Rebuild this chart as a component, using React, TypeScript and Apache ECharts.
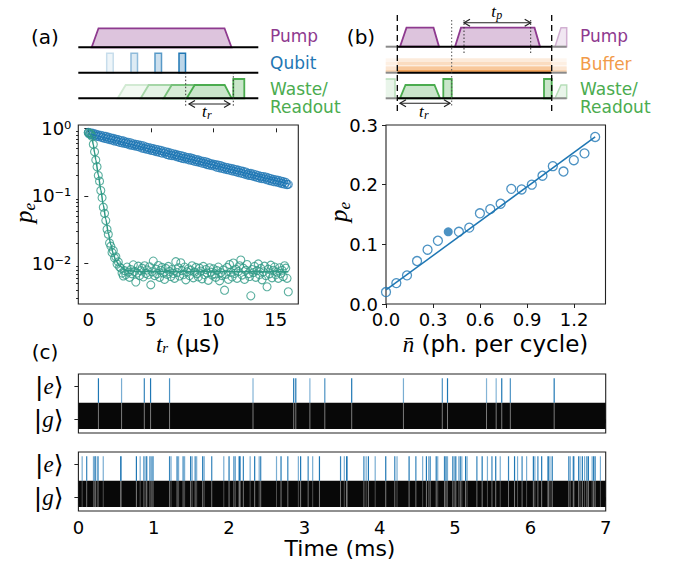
import React, { useEffect, useRef } from "react";
import * as echarts from "echarts";

// ---------------- panel (a): p_e versus t_r ----------------
const T_STEP_US = 0.1; // sampling step of the t_r sweep (µs)
const peBlue = [
  0.87, 0.82, 0.86, 0.8, 0.84, 0.78, 0.82, 0.76, 0.8, 0.75,
  0.79, 0.73, 0.77, 0.71, 0.76, 0.7, 0.74, 0.68, 0.72, 0.67,
  0.71, 0.65, 0.69, 0.64, 0.68, 0.62, 0.66, 0.61, 0.65, 0.6,
  0.63, 0.59, 0.62, 0.57, 0.61, 0.56, 0.59, 0.55, 0.58, 0.54,
  0.57, 0.53, 0.56, 0.51, 0.55, 0.5, 0.53, 0.49, 0.52, 0.48,
  0.51, 0.47, 0.5, 0.46, 0.49, 0.45, 0.48, 0.44, 0.47, 0.43,
  0.46, 0.43, 0.45, 0.41, 0.44, 0.4, 0.43, 0.395, 0.42, 0.39,
  0.41, 0.38, 0.4, 0.37, 0.395, 0.36, 0.385, 0.355, 0.375, 0.35,
  0.37, 0.34, 0.365, 0.335, 0.355, 0.325, 0.345, 0.32, 0.34, 0.315,
  0.33, 0.305, 0.325, 0.3, 0.32, 0.29, 0.31, 0.285, 0.3, 0.28,
  0.295, 0.275, 0.29, 0.265, 0.285, 0.26, 0.28, 0.255, 0.27, 0.25,
  0.265, 0.245, 0.26, 0.24, 0.255, 0.235, 0.25, 0.23, 0.245, 0.225,
  0.24, 0.22, 0.235, 0.215, 0.23, 0.21, 0.225, 0.205, 0.215, 0.2,
  0.215, 0.198, 0.21, 0.193, 0.205, 0.188, 0.2, 0.183, 0.195, 0.18,
  0.193, 0.178, 0.19, 0.173, 0.184, 0.168, 0.18, 0.165, 0.175, 0.162,
  0.173, 0.16, 0.17, 0.156, 0.166, 0.152, 0.162, 0.149, 0.158, 0.147,
  0.148,
];
const peGreen = [
  0.86, 0.85, 0.82, 0.76, 0.58, 0.45, 0.34, 0.27, 0.2, 0.165,
  0.12, 0.094, 0.068, 0.055, 0.043, 0.032, 0.027, 0.02, 0.018, 0.0145,
  0.0155, 0.012, 0.0125, 0.0098, 0.0105, 0.0088, 0.0085, 0.0072, 0.0065, 0.0078,
  0.0068, 0.0088, 0.0074, 0.0062, 0.0081, 0.007, 0.0095, 0.0076, 0.0053, 0.0072,
  0.0091, 0.0066, 0.0078, 0.0085, 0.0063, 0.0092, 0.0071, 0.008, 0.0068, 0.0089,
  0.0048, 0.0075, 0.0108, 0.0066, 0.0082, 0.007, 0.0093, 0.0062, 0.0079, 0.0087,
  0.0072, 0.0058, 0.0084, 0.0069, 0.009, 0.0076, 0.0064, 0.0081, 0.0071, 0.006,
  0.0106, 0.0073, 0.0086, 0.0065, 0.0102, 0.0078, 0.0068, 0.0088, 0.0057, 0.0075,
  0.0083, 0.0066, 0.0079, 0.0092, 0.0061, 0.0074, 0.0087, 0.007, 0.0063, 0.0085,
  0.0077, 0.0059, 0.009, 0.0068, 0.0081, 0.0072, 0.0056, 0.0086, 0.0074, 0.0067,
  0.0083, 0.007, 0.0062, 0.0078, 0.0088, 0.0055, 0.0073, 0.0066, 0.008, 0.004,
  0.0069, 0.0087, 0.0058, 0.0096, 0.0074, 0.0063, 0.0101, 0.0071, 0.0082, 0.006,
  0.0076, 0.0092, 0.0112, 0.0067, 0.0085, 0.0058, 0.0079, 0.0096, 0.007, 0.0064,
  0.0033, 0.0081, 0.0073, 0.009, 0.0062, 0.0078, 0.0098, 0.0068, 0.0084, 0.0057,
  0.0075, 0.0091, 0.0066, 0.0045, 0.0082, 0.007, 0.0094, 0.0061, 0.0079, 0.0088,
  0.0068, 0.0074, 0.006, 0.0086, 0.0071, 0.0079, 0.0064, 0.0092, 0.0085, 0.006,
  0.0038,
];
const blueFitT = [0, 16];
const blueFitPe = [0.835, 0.151];
const greenFitT = [0, 0.2, 0.3, 0.4, 0.5, 0.6, 0.8, 1.0, 1.2, 1.4, 1.6, 1.8, 2.0, 2.2, 2.5, 3.0, 3.5, 4.0, 16];
const greenFitPe = [0.85, 0.8, 0.72, 0.57, 0.44, 0.34, 0.205, 0.122, 0.073, 0.045, 0.028, 0.019, 0.0138, 0.011, 0.0091, 0.008, 0.0077, 0.0076, 0.0075];
const aXTicks = [0, 5, 10, 15];
const aDecades = [-2, -1, 0];
const aDecadeLabels: Record<string, string> = { "-2": "10⁻²", "-1": "10⁻¹", "0": "10⁰" };

// ---------------- panel (b): p_e versus n̄ ----------------
const nbar = [0.0, 0.066, 0.134, 0.198, 0.265, 0.331, 0.397, 0.465, 0.531, 0.599, 0.665, 0.731, 0.799, 0.865, 0.93, 0.998, 1.064, 1.132, 1.198, 1.266, 1.334];
const peNbar = [0.02, 0.035, 0.048, 0.072, 0.091, 0.106, 0.121, 0.121, 0.128, 0.152, 0.159, 0.168, 0.193, 0.192, 0.2, 0.215, 0.231, 0.222, 0.241, 0.2525, 0.28];
const highlightIndex = 6;
const nbarFitX = [0, 1.334];
const nbarFitPe = [0.0235, 0.28];
const bXTicks = [0, 0.3, 0.6, 0.9, 1.2];

// ---------------- panel (c): jump traces ----------------
const jumpsTop = [0.266, 0.573, 0.875, 0.958, 1.21, 2.318, 2.858, 2.886, 3.073, 3.271, 3.628, 4.315, 4.831, 4.9, 5.418, 5.546, 5.62, 5.734, 6.316];
const jumpsTopWeight = [1, 0.6, 0.9, 1, 0.8, 0.55, 1, 1, 0.55, 0.8, 1, 0.6, 0.8, 1, 0.55, 0.55, 1, 0.8, 1];
const jumpsBottom = [
  0.05, 0.11, 0.2, 0.22, 0.23, 0.26, 0.33, 0.56, 0.57, 0.77, 0.82, 0.87, 0.9, 0.91, 0.95, 0.97, 0.99,
  1.21, 1.23, 1.31, 1.33, 1.39, 1.41, 1.49, 1.51, 1.55, 1.57, 1.65, 1.67, 1.77, 1.93,
  2.0, 2.06, 2.08, 2.13, 2.14, 2.15, 2.19, 2.28, 2.34, 2.4, 2.42, 2.63, 2.69, 2.78, 2.92, 2.95,
  3.05, 3.11, 3.2, 3.48, 3.53, 3.56, 3.57, 3.79, 3.82, 3.85, 3.94,
  4.08, 4.2, 4.23, 4.39, 4.48, 4.57, 4.62, 4.65, 4.67, 4.75, 4.77, 4.86, 4.88, 4.9, 4.97, 4.99,
  5.01, 5.05, 5.07, 5.09, 5.14, 5.16, 5.29, 5.36, 5.43, 5.49, 5.54, 5.6, 5.71, 5.79, 5.83, 5.89, 5.95,
  6.04, 6.06, 6.1, 6.15, 6.23, 6.24, 6.26, 6.29, 6.51, 6.53, 6.57, 6.58, 6.64, 6.66, 6.69, 6.72, 6.75, 6.77, 6.82, 6.84, 6.86, 6.93,
];
const jumpsBottomWeight = [
  0.6, 0.9, 0.6, 1, 0.6, 1, 0.6, 0.9, 0.6, 1, 0.6, 0.9, 1, 0.6, 0.9, 0.6, 1,
  0.9, 0.6, 1, 0.6, 0.9, 0.6, 1, 0.6, 0.9, 0.6, 1, 0.6, 0.9, 0.6,
  1, 0.6, 0.9, 0.6, 1, 0.6, 0.9, 0.6, 1, 0.6, 0.9, 0.6, 1, 0.9, 0.6, 1,
  0.9, 0.6, 1, 0.9, 0.6, 1, 0.6, 0.9, 0.6, 1, 0.6,
  1, 0.9, 0.6, 1, 0.9, 0.6, 1, 0.6, 0.9, 1, 0.6, 0.9, 1, 0.6, 0.9, 0.6,
  1, 0.6, 0.9, 0.6, 1, 0.6, 0.9, 1, 0.6, 0.9, 1, 0.6, 0.9, 1, 0.6, 0.9, 0.6,
  1, 0.6, 0.9, 1, 0.6, 0.9, 0.6, 1, 0.9, 0.6, 1, 0.6, 0.9, 0.6, 1, 0.6, 0.9, 1, 0.6, 1, 0.9, 0.6,
];
const cXTicks = [0, 1, 2, 3, 4, 5, 6, 7];
const cStates = [0, 1]; // |g>, |e>
const G_BAND = [-0.3, 0.5];
const E_LINE = [0.5, 1.25];

// ---------------- styling ----------------
const BLUE = "#1f77b4";
const TEAL = "#2f9a86";
const PURPLE = "#8e3a8f";
const GREEN = "#4bac4f";
const ORANGE = "#f29b4a";
const INK = "#222";
const SANS = "DejaVu Sans";
const SERIF = "Liberation Serif";

function mix(hex: string, a: number) {
  const n = parseInt(hex.slice(1), 16);
  const r = (n >> 16) & 255, g = (n >> 8) & 255, b = n & 255;
  const m = (c: number) => Math.round(255 - a * (255 - c));
  return `rgb(${m(r)},${m(g)},${m(b)})`;
}

const L = (x1: number, y1: number, x2: number, y2: number, stroke: string, lineWidth = 2, lineDash?: number[]) => ({
  type: "line", silent: true, shape: { x1, y1, x2, y2 }, style: { stroke, lineWidth, lineDash },
});
const PG = (points: number[][], fill: string, stroke: string, lineWidth = 1.8) => ({
  type: "polygon", silent: true, shape: { points }, style: { fill, stroke, lineWidth },
});
const PL = (points: number[][], stroke: string, lineWidth = 1.2) => ({
  type: "polyline", silent: true, shape: { points }, style: { stroke, lineWidth, fill: "none" },
});
const TX = (x: number, y: number, text: string, fill: string, fontSize = 17, align = "left", extra: any = {}) => ({
  type: "text", silent: true, x, y,
  style: { text, fill, fontSize, fontFamily: SANS, align, verticalAlign: "middle", ...extra },
});
const arrow = (x1: number, x2: number, y: number) => [
  L(x1, y, x2, y, INK, 1.1),
  PL([[x1 + 6, y - 3.5], [x1, y], [x1 + 6, y + 3.5]], INK),
  PL([[x2 - 6, y - 3.5], [x2, y], [x2 - 6, y + 3.5]], INK),
];
const mathRich = (big: number, small: number, drop: number) => ({
  m: { fontFamily: SERIF, fontStyle: "italic", fontSize: big, lineHeight: big, verticalAlign: "top", fill: "#000", color: "#000" },
  s: { fontFamily: SERIF, fontStyle: "italic", fontSize: small, lineHeight: small, verticalAlign: "bottom", padding: [drop, 0, 0, 0], fill: "#000", color: "#000" },
  n: { fontFamily: SANS, fontSize: big, lineHeight: big, verticalAlign: "top", fill: "#000", color: "#000" },
});
const MT = (x: number, y: number, text: string, big: number, small: number, drop: number, rotation = 0) => ({
  type: "text", silent: true, x, y, rotation,
  style: { text, rich: mathRich(big, small, drop), align: "center", verticalAlign: "middle", fill: "#000" },
});
// symbol with subscript, built from two texts inside a (possibly rotated) group
const SUB = (x: number, y: number, main: string, sub: string, big: number, small: number, mainW: number, dx0: number, drop: number, rotation = 0) => ({
  type: "group", silent: true, x, y, rotation,
  children: [
    { type: "text", silent: true, x: dx0, y: 0, style: { text: main, fill: "#000", fontFamily: SERIF, fontStyle: "italic", fontSize: big, align: "left", verticalAlign: "middle" } },
    { type: "text", silent: true, x: dx0 + mainW, y: drop, style: { text: sub, fill: "#000", fontFamily: SERIF, fontStyle: "italic", fontSize: small, align: "left", verticalAlign: "middle" } },
  ],
});

function schematic(): any[] {
  const els: any[] = [];
  // ----- panel (a) -----
  els.push(PG([[91.7, 47.3], [98.5, 28.3], [224.5, 28.3], [231.5, 47.3]], mix(PURPLE, 0.3), PURPLE));
  const qx = [106.7, 131, 155, 179];
  const fade = [0.25, 0.5, 0.75, 1];
  qx.forEach((x, i) => {
    els.push({ type: "rect", silent: true, shape: { x, y: 53.3, width: 6.5, height: 19.4 }, style: { fill: mix(BLUE, 0.3 * fade[i]), stroke: mix(BLUE, fade[i]), lineWidth: 1.5 } });
  });
  const gx = [117.7, 140.7, 163.7, 186.7];
  gx.forEach((x0, i) => {
    els.push(PG([[x0, 98.3], [x0 + 8, 85], [x0 + 38, 85], [x0 + 45, 98.3]], mix(GREEN, 0.3 * fade[i]), mix(GREEN, fade[i])));
  });
  els.push({ type: "rect", silent: true, shape: { x: 233.3, y: 79, width: 11, height: 19.3 }, style: { fill: mix(GREEN, 0.3), stroke: GREEN, lineWidth: 1.8 } });
  [47.3, 72.7, 98.3].forEach((y) => els.push(L(78.3, y, 258.3, y, "#000", 2)));
  els.push(L(185.7, 72.7, 185.7, 106.7, "#333", 1, [1.5, 2]));
  els.push(L(233.3, 72.7, 233.3, 106.7, "#333", 1, [1.5, 2]));
  els.push(...arrow(189, 230, 104));
  els.push(SUB(207, 111, "t", "r", 17, 12, 5, -5, 3.5));
  els.push(TX(270, 36, "Pump", PURPLE));
  els.push(TX(270, 63, "Qubit", BLUE));
  els.push(TX(270, 88.5, "Waste/", GREEN));
  els.push(TX(270, 107, "Readout", GREEN));
  els.push(TX(45, 37, "(a)", "#000", 20, "center"));

  // ----- panel (b) -----
  const xl = 385.7, d1 = 397.3, d2 = 551.7, xr = 566.7;
  const stripes = [[58.3, 62, 0.2], [62, 65.5, 0.35], [66.3, 70, 0.55], [70, 72.7, 0.9]];
  stripes.forEach(([y0, y1, a]) => {
    els.push({ type: "rect", silent: true, shape: { x: xl, y: y0, width: d1 - xl, height: y1 - y0 }, style: { fill: mix(ORANGE, a * 0.45) } });
    els.push({ type: "rect", silent: true, shape: { x: d1, y: y0, width: d2 - d1, height: y1 - y0 }, style: { fill: mix(ORANGE, a) } });
    els.push({ type: "rect", silent: true, shape: { x: d2, y: y0, width: xr - d2, height: y1 - y0 }, style: { fill: mix(ORANGE, a * 0.45) } });
  });
  els.push(PG([[400, 46.7], [406.5, 27.7], [433.5, 27.7], [439, 46.7]], mix(PURPLE, 0.3), PURPLE));
  els.push(PG([[455, 46.7], [461, 27.7], [534.5, 27.7], [540, 46.7]], mix(PURPLE, 0.3), PURPLE));
  els.push(PG([[555, 46.7], [561, 27.7], [xr, 27.7], [xr, 46.7]], mix(PURPLE, 0.12), mix(PURPLE, 0.4), 1.5));
  els.push(PG([[400, 98.3], [405.5, 85], [434.5, 85], [440, 98.3]], mix(GREEN, 0.3), GREEN));
  els.push({ type: "rect", silent: true, shape: { x: 443.3, y: 79, width: 8.4, height: 19.3 }, style: { fill: mix(GREEN, 0.3), stroke: GREEN, lineWidth: 1.8 } });
  els.push({ type: "rect", silent: true, shape: { x: 544, y: 79, width: 7.7, height: 19.3 }, style: { fill: mix(GREEN, 0.3), stroke: GREEN, lineWidth: 1.8 } });
  els.push({ type: "rect", silent: true, shape: { x: xl, y: 79, width: 9.3, height: 19.3 }, style: { fill: mix(GREEN, 0.12), stroke: "none" } });
  els.push(PL([[xl, 79], [395, 79], [395, 98.3]], mix(GREEN, 0.4), 1.5));
  els.push(PG([[555, 98.3], [561, 85], [xr, 85], [xr, 98.3]], mix(GREEN, 0.12), mix(GREEN, 0.4), 1.5));
  [46.7, 72.7, 98.3].forEach((y) => {
    els.push(L(xl, y, d1, y, "#8a8a8a", 2));
    els.push(L(d1, y, d2, y, "#000", 2));
    els.push(L(d2, y, xr, y, "#8a8a8a", 2));
  });
  els.push(L(d1, 15, d1, 113, "#000", 1.3, [6, 4]));
  els.push(L(d2, 15, d2, 113, "#000", 1.3, [6, 4]));
  els.push(L(451.7, 20, 451.7, 107, "#555", 1, [1.5, 2]));
  els.push(L(464, 20, 464, 53.3, "#333", 1, [1.5, 2]));
  els.push(L(530.7, 20, 530.7, 53.3, "#333", 1, [1.5, 2]));
  els.push(...arrow(464, 530.7, 22.7));
  els.push(SUB(496.7, 11, "t", "p", 17, 12, 5, -5.5, 3.5));
  els.push(...arrow(400, 450, 103.3));
  els.push(SUB(424, 111, "t", "r", 17, 12, 5, -5, 3.5));
  els.push(TX(580, 36, "Pump", PURPLE));
  els.push(TX(580, 63.5, "Buffer", ORANGE));
  els.push(TX(580, 88.5, "Waste/", GREEN));
  els.push(TX(580, 107, "Readout", GREEN));
  els.push(TX(361, 37, "(b)", "#000", 20, "center"));

  // ----- labels for plots -----
  els.push(SUB(23.5, 213, "p", "e", 25, 17, 12.5, -10, 6, Math.PI / 2));
  els.push(SUB(338, 212, "p", "e", 25, 17, 12.5, -10, 6, Math.PI / 2));
  els.push(MT(188, 344, "{m|t}{s|r}{n| (µs)}", 23, 15, 13));
  els.push(MT(495.5, 344, "{m|n̄}{n| (ph. per cycle)}", 23, 15, 9));
  els.push(TX(340, 548, "Time (ms)", "#000", 22, "center"));
  els.push(TX(45, 352, "(c)", "#000", 20, "center"));
  return els;
}

const tickLabel = { color: "#000", fontFamily: SANS, fontSize: 18 };
const baseAxis = (extra: any) => ({
  type: "value",
  axisLine: { show: false },
  splitLine: { show: false },
  ...extra,
});

export default function App() {
  const ref = useRef<HTMLDivElement>(null);
  useEffect(() => {
    if (!ref.current) return;
    const chart = echarts.init(ref.current, null, { renderer: "svg" });

    const yMin = Math.log10(0.0025), yMax = Math.log10(1.12);
    const minor: number[] = [];
    for (let e = -3; e <= 0; e++) for (let k = 2; k <= 9; k++) {
      const v = Math.log10(k) + e;
      if (v > yMin && v < yMax) minor.push(v);
    }
    const bluePts = peBlue.map((p, i) => [+(i * T_STEP_US).toFixed(2), Math.log10(p)]);
    const greenPts = peGreen.map((p, i) => [+(i * T_STEP_US).toFixed(2), Math.log10(p)]);
    const hollow = (c: string) => ({ color: "rgba(0,0,0,0)", borderColor: c, borderWidth: 1.1 });
    const ticks = (vals: number[] | null, len = 4) => ({ show: true, length: len, lineStyle: { color: INK, width: 1 }, ...(vals ? { customValues: vals } : {}) });
    const stateLabel = {
      ...tickLabel, margin: 15, customValues: cStates,
      formatter: (v: number) => (v > 0.5 ? "{b||}{i|e}{b|⟩}" : "{b||}{i|g}{b|⟩}"),
      rich: {
        b: { fontFamily: SANS, fontSize: 25, color: "#000" },
        i: { fontFamily: SERIF, fontStyle: "italic", fontSize: 23, color: "#000" },
      },
    };
    const eventSeries = (axis: number, data: number[][], range: number[], stroke: string, width: number) => ({
      type: "custom", xAxisIndex: axis, yAxisIndex: axis + 1, silent: true, data,
      renderItem: (_p: any, api: any) => {
        const a = api.coord([api.value(0), range[1]]);
        const b = api.coord([api.value(0), range[0]]);
        return { type: "line", shape: { x1: a[0], y1: a[1], x2: b[0], y2: b[1] }, style: { stroke, lineWidth: width, opacity: api.value(2) } };
      },
    });
    const bandSeries = (axis: number) => ({
      type: "custom", xAxisIndex: axis, yAxisIndex: axis + 1, silent: true, data: [[0, 7]],
      renderItem: (_p: any, api: any) => {
        const a = api.coord([api.value(0), G_BAND[1]]);
        const b = api.coord([api.value(1), G_BAND[0]]);
        return { type: "rect", shape: { x: a[0], y: a[1], width: b[0] - a[0], height: b[1] - a[1] }, style: { fill: "#080808" } };
      },
    });
    const gridStyle = { show: true, borderColor: INK, borderWidth: 1.1, backgroundColor: "rgba(0,0,0,0)", outerBoundsMode: "none" };

    chart.setOption({
      animation: false,
      backgroundColor: "#fff",
      grid: [
        { left: 78.3, top: 125, width: 220, height: 179, ...gridStyle },
        { left: 386, top: 125, width: 219.5, height: 179, ...gridStyle },
        { left: 78.4, top: 374, width: 527.3, height: 59, ...gridStyle },
        { left: 78.4, top: 452, width: 527.3, height: 59, ...gridStyle },
      ],
      xAxis: [
        baseAxis({ gridIndex: 0, min: -0.8, max: 16.8, axisTick: ticks(aXTicks), axisLabel: { ...tickLabel, margin: 6, customValues: aXTicks } }),
        baseAxis({ gridIndex: 1, min: 0, max: 1.4, axisTick: ticks(bXTicks), axisLabel: { ...tickLabel, margin: 6, customValues: bXTicks, formatter: (v: number) => v.toFixed(1) } }),
        baseAxis({ gridIndex: 2, min: 0, max: 7, axisTick: ticks(cXTicks), axisLabel: { show: false, customValues: cXTicks } }),
        baseAxis({ gridIndex: 3, min: 0, max: 7, axisTick: ticks(cXTicks), axisLabel: { ...tickLabel, margin: 7, customValues: cXTicks } }),
      ],
      yAxis: [
        baseAxis({ gridIndex: 0, position: "left", min: yMin, max: yMax, axisTick: ticks(aDecades), axisLabel: { ...tickLabel, margin: 7, customValues: aDecades, formatter: (v: number) => aDecadeLabels[String(Math.round(v))] } }),
        baseAxis({ gridIndex: 0, position: "left", offset: 0, min: yMin, max: yMax, axisTick: ticks(minor, 2.2), axisLabel: { show: false } }),
        baseAxis({ gridIndex: 1, min: 0, max: 0.3, interval: 0.1, axisTick: ticks(null), axisLabel: { ...tickLabel, margin: 8, formatter: (v: number) => v.toFixed(1) } }),
        baseAxis({ gridIndex: 2, min: -0.42, max: 1.38, axisTick: ticks(cStates), axisLabel: stateLabel }),
        baseAxis({ gridIndex: 3, min: -0.42, max: 1.38, axisTick: ticks(cStates), axisLabel: stateLabel }),
      ],
      series: [
        { type: "scatter", xAxisIndex: 0, yAxisIndex: 0, data: bluePts, symbol: "circle", symbolSize: 8, itemStyle: hollow(BLUE), silent: true },
        { type: "line", xAxisIndex: 0, yAxisIndex: 0, data: blueFitT.map((t, i) => [t, Math.log10(blueFitPe[i])]), symbol: "none", lineStyle: { color: BLUE, width: 1.5 }, silent: true },
        { type: "scatter", xAxisIndex: 0, yAxisIndex: 0, data: greenPts, symbol: "circle", symbolSize: 8, itemStyle: hollow(TEAL), silent: true },
        { type: "line", xAxisIndex: 0, yAxisIndex: 0, data: greenFitT.map((t, i) => [t, Math.log10(greenFitPe[i])]), symbol: "none", smooth: 0.3, smoothMonotone: "x", lineStyle: { color: TEAL, width: 1.5 }, silent: true },
        { type: "line", xAxisIndex: 1, yAxisIndex: 2, data: nbarFitX.map((x, i) => [x, nbarFitPe[i]]), symbol: "none", lineStyle: { color: BLUE, width: 1.5 }, silent: true },
        { type: "scatter", xAxisIndex: 1, yAxisIndex: 2, data: nbar.map((x, i) => [x, peNbar[i]]).filter((_, i) => i !== highlightIndex), symbol: "circle", symbolSize: 9, itemStyle: { ...hollow(BLUE), borderWidth: 1.3 }, silent: true },
        { type: "scatter", xAxisIndex: 1, yAxisIndex: 2, data: [[nbar[highlightIndex], peNbar[highlightIndex]]], symbol: "circle", symbolSize: 9, itemStyle: { color: BLUE }, silent: true },
        bandSeries(2),
        eventSeries(2, jumpsTop.map((t) => [t, 0, 1]), G_BAND, "#7a7a7a", 1),
        eventSeries(2, jumpsTop.map((t, i) => [t, 1, jumpsTopWeight[i]]), E_LINE, BLUE, 1.2),
        bandSeries(3),
        eventSeries(3, jumpsBottom.map((t, i) => [t, 0, jumpsBottomWeight[i] * 0.8]), G_BAND, "#9a9a9a", 1),
        eventSeries(3, jumpsBottom.map((t, i) => [t, 1, jumpsBottomWeight[i]]), E_LINE, BLUE, 1.2),
      ],
      graphic: schematic(),
    });
    return () => chart.dispose();
  }, []);
  return <div ref={ref} style={{ position: "fixed", left: 0, top: 0, width: 675, height: 565, background: "#fff" }} />;
}
